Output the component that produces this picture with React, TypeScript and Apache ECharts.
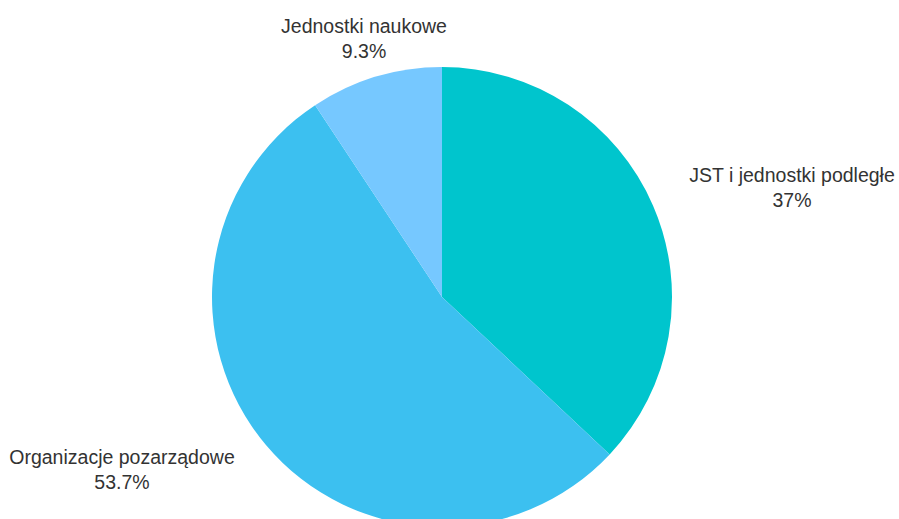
import React, { useEffect, useRef } from "react";
import * as echarts from "echarts";

const categories = ["JST i jednostki podległe", "Organizacje pozarządowe", "Jednostki naukowe"];
const values = [37, 53.7, 9.3];
const colors = ["#00C5CD", "#3CC0F0", "#76C8FF"];

export default function App() {
  const ref = useRef<HTMLDivElement>(null);
  useEffect(() => {
    if (!ref.current) return;
    const chart = echarts.init(ref.current, undefined, { renderer: "svg" });
    const labelPos = [
      [792, 187],
      [122, 469],
      [364, 38],
    ];
    chart.setOption({
      animation: false,
      backgroundColor: "#ffffff",
      series: [
        {
          type: "pie",
          center: [442, 297],
          radius: 230,
          startAngle: 90,
          clockwise: true,
          data: categories.map((name, i) => ({
            name,
            value: values[i],
            itemStyle: { color: colors[i] },
          })),
          label: {
            show: true,
            position: "outside",
            formatter: (p: any) => `${p.name}\n${p.value}%`,
            fontFamily: "Liberation Sans",
            fontSize: 19.5,
            lineHeight: 25,
            color: "#333333",
            align: "center",
            overflow: "none",
          },
          labelLine: { show: false },
          labelLayout: (p: any) => ({
            x: labelPos[p.dataIndex][0],
            y: labelPos[p.dataIndex][1],
            align: "center",
            verticalAlign: "middle",
          }),
        },
      ],
    });
    return () => chart.dispose();
  }, []);
  return (
    <div
      ref={ref}
      style={{ position: "fixed", left: 0, top: 0, width: 899, height: 519 }}
    />
  );
}
